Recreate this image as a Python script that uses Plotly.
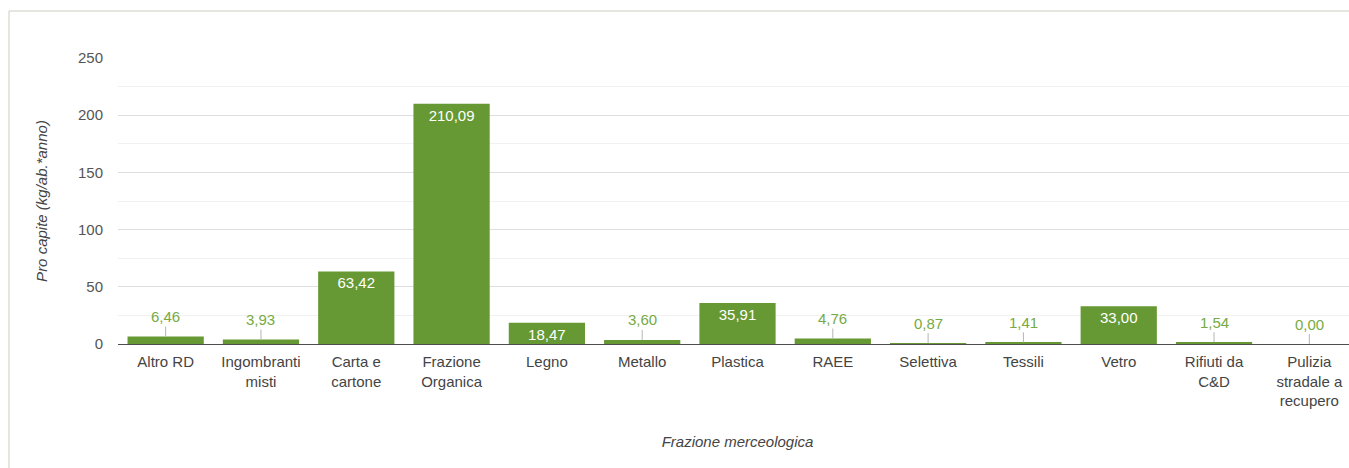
import plotly.graph_objects as go

categories = [
    "Altro RD", "Ingombranti<br>misti", "Carta e<br>cartone", "Frazione<br>Organica",
    "Legno", "Metallo", "Plastica", "RAEE", "Selettiva", "Tessili", "Vetro",
    "Rifiuti da<br>C&D", "Pulizia<br>stradale a<br>recupero",
]
per_capita = [6.46, 3.93, 63.42, 210.09, 18.47, 3.60, 35.91, 4.76, 0.87, 1.41, 33.00, 1.54, 0.00]
y_ticks = [0, 50, 100, 150, 200, 250]

BAR = "#669933"
LABEL_OUT = "#77aa44"
FONT = "Liberation Sans, Arial, sans-serif"
INSIDE_MIN = 10  # bars shorter than this get their label above with a leader line

# the chart panel is slightly wider than the visible page; its right edge is cut off
FIG_W, FIG_H = 1357, 468
M_L, M_T, M_B = 118, 58, 124
PLOT_W = FIG_W - M_L
PLOT_H = FIG_H - M_T - M_B

def fmt(v):
    return f"{v:.2f}".replace(".", ",")

inside_text = [fmt(v) if v >= INSIDE_MIN else "" for v in per_capita]

fig = go.Figure(go.Bar(
    x=categories, y=per_capita,
    marker=dict(color=BAR, line=dict(width=0)),
    text=inside_text, textposition="inside", insidetextanchor="end",
    textangle=0, constraintext="none",
    textfont=dict(color="white", size=15, family=FONT),
    hoverinfo="skip",
))

for cat, v in zip(categories, per_capita):
    if v < INSIDE_MIN:
        fig.add_annotation(
            x=cat, y=v, text=fmt(v), showarrow=True, arrowhead=0,
            arrowwidth=1, arrowcolor="#b5b5b5", ax=0, ay=-20, standoff=0,
            font=dict(color=LABEL_OUT, size=15, family=FONT),
        )

# outer frame of the chart panel
fig.add_shape(type="rect", xref="paper", yref="paper",
              x0=(9 - M_L) / PLOT_W, x1=1.05, y0=-0.6, y1=1 + 47 / PLOT_H,
              line=dict(color="#cccac0", width=1), fillcolor="rgba(0,0,0,0)", layer="below")

fig.update_layout(
    width=FIG_W, height=FIG_H,
    margin=dict(l=M_L, r=0, t=M_T, b=M_B),
    paper_bgcolor="white", plot_bgcolor="white",
    bargap=0.2, showlegend=False, separators=",.",
    font=dict(family=FONT, size=15, color="#555555"),
    xaxis=dict(
        showline=True, linecolor="#4d4d4d", linewidth=1,
        ticks="outside", ticklen=4, tickcolor="rgba(0,0,0,0)",
        tickfont=dict(size=15, color="#444444"),
        title=dict(text="Frazione merceologica", standoff=28,
                   font=dict(size=15, style="italic", color="#444444")),
        showgrid=False,
    ),
    yaxis=dict(
        range=[0, 250], tickvals=y_ticks, showgrid=True, gridcolor="#dedede",
        minor=dict(dtick=25, showgrid=True, gridcolor="#f1f1f1"),
        zeroline=False, ticklabelstandoff=14,
        tickfont=dict(size=15, color="#555555"),
        title=dict(text="Pro capite (kg/ab.*anno)", standoff=26,
                   font=dict(size=15, style="italic", color="#444444")),
    ),
)

fig.write_html(
    "out.html",
    post_script="document.documentElement.style.overflow='hidden';"
                "document.body.style.overflow='hidden';document.body.style.margin='0';",
)
